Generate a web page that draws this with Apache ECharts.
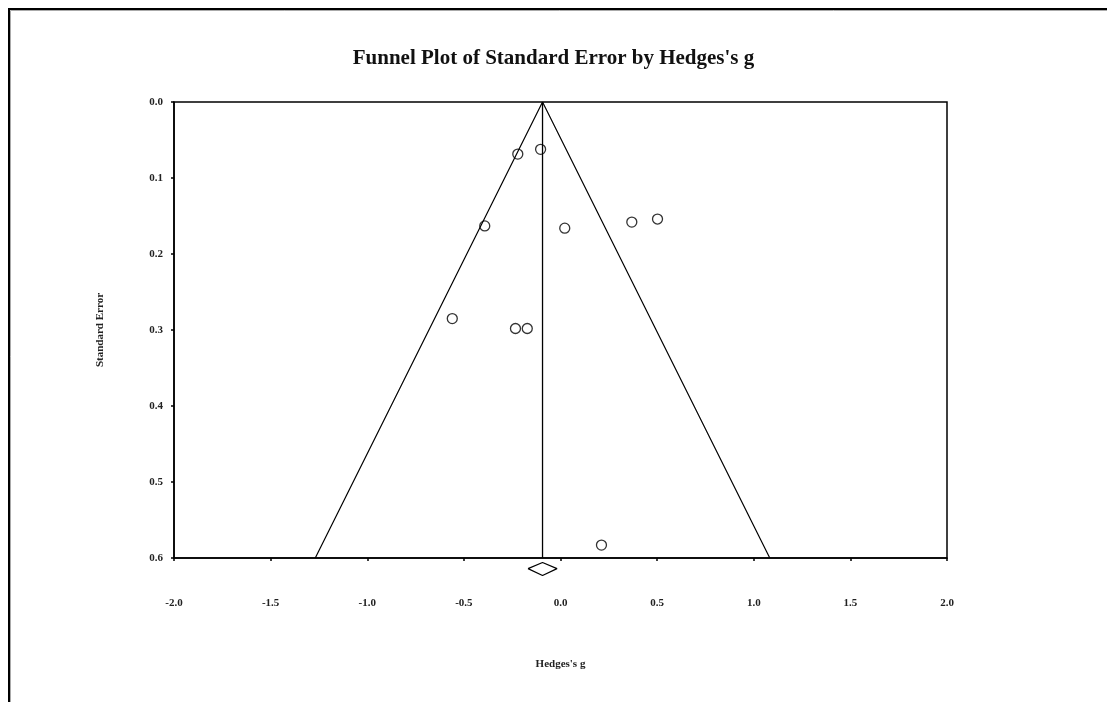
<!DOCTYPE html>
<html>
<head>
<meta charset="utf-8">
<script src="https://cdn.jsdelivr.net/npm/echarts@6/dist/echarts.min.js"></script>
<style>
html,body{margin:0;padding:0;background:#fff;}
#chart{width:1107px;height:702px;}
</style>
</head>
<body>
<div id="chart"></div>
<script>
// Study points: Hedges's g and standard error
const studyG  = [-0.221, -0.103, -0.392, 0.022, 0.369, 0.502, -0.560, -0.233, -0.172, 0.212];
const studySE = [0.0685, 0.0623, 0.163, 0.166, 0.158, 0.154, 0.285, 0.298, 0.298, 0.583];
// Pooled estimate and its confidence interval
const pooledG = [-0.093];
const pooledCI = [-0.168, -0.018];
// Funnel (95% limits) at the bottom of the axis
const funnelSE = [0.0, 0.6];
const funnelBottom = [-1.269, 1.083];
// Diamond vertical placement (standard-error units, below axis)
const diamondSE = [0.606, 0.614, 0.623];
// Axis ticks
const xTicks = [-2.0, -1.5, -1.0, -0.5, 0.0, 0.5, 1.0, 1.5, 2.0];
const yTicks = [0.0, 0.1, 0.2, 0.3, 0.4, 0.5, 0.6];

const FONT = 'Liberation Serif';
const chart = echarts.init(document.getElementById('chart'), null, {renderer: 'canvas'});

const points = studyG.map((g, i) => [g, studySE[i]]);
const mean = pooledG[0];
const funnel = [[funnelBottom[0], funnelSE[1]], [mean, funnelSE[0]], [funnelBottom[1], funnelSE[1]]];
const meanLine = [[mean, funnelSE[0]], [mean, funnelSE[1]]];
const diamond = [
  [pooledCI[0], diamondSE[1]],
  [mean, diamondSE[0]],
  [pooledCI[1], diamondSE[1]],
  [mean, diamondSE[2]],
  [pooledCI[0], diamondSE[1]]
];

const option = {
  backgroundColor: '#fff',
  animation: false,
  title: {
    text: "Funnel Plot of Standard Error by Hedges's g",
    left: 'center',
    top: 43,
    textStyle: {fontFamily: FONT, fontWeight: 'bold', fontSize: 21, color: '#111'}
  },
  graphic: [
    {type: 'rect', shape: {x: 9, y: 9, width: 1200, height: 800}, style: {fill: 'none', stroke: '#000', lineWidth: 2}, silent: true},
    {type: 'rect', shape: {x: 10.5, y: 10.5, width: 1200, height: 800}, style: {fill: 'none', stroke: '#aaa', lineWidth: 1}, silent: true}
  ],
  grid: {left: 174, right: 160, top: 102, bottom: 144, show: true, borderColor: '#000', borderWidth: 1.5, containLabel: false},
  xAxis: {
    type: 'value',
    min: xTicks[0], max: xTicks[xTicks.length - 1], interval: 0.5,
    name: "Hedges's g",
    nameLocation: 'middle',
    nameGap: 101,
    nameTextStyle: {fontFamily: FONT, fontWeight: 'bold', fontSize: 11, color: '#222'},
    axisLine: {show: true, onZero: false, lineStyle: {color: '#000', width: 1.5}},
    axisTick: {show: true, length: 3, lineStyle: {color: '#000', width: 1.5}},
    axisLabel: {margin: 40, fontFamily: FONT, fontWeight: 'bold', fontSize: 11, color: '#222',
      formatter: v => v.toFixed(1)},
    splitLine: {show: false}
  },
  yAxis: {
    type: 'value',
    inverse: true,
    min: yTicks[0], max: yTicks[yTicks.length - 1], interval: 0.1,
    name: 'Standard Error',
    nameLocation: 'middle',
    nameGap: 68,
    nameRotate: 90,
    nameTextStyle: {fontFamily: FONT, fontWeight: 'bold', fontSize: 11, color: '#222'},
    axisLine: {show: true, onZero: false, lineStyle: {color: '#000', width: 1.5}},
    axisTick: {show: true, length: 3, lineStyle: {color: '#000', width: 1.5}},
    axisLabel: {margin: 11, fontFamily: FONT, fontWeight: 'bold', fontSize: 11, color: '#222',
      formatter: v => v.toFixed(1)},
    splitLine: {show: false}
  },
  series: [
    {type: 'line', data: funnel, symbol: 'none', lineStyle: {color: '#000', width: 1.2}, silent: true, z: 2},
    {type: 'line', data: meanLine, symbol: 'none', lineStyle: {color: '#000', width: 1.3}, silent: true, z: 2},
    {type: 'line', data: diamond, symbol: 'none', clip: false, lineStyle: {color: '#000', width: 1.2}, silent: true, z: 3},
    {type: 'scatter', data: points, symbol: 'circle', symbolSize: 10,
      itemStyle: {color: 'rgba(255,255,255,0)', borderColor: '#000', borderWidth: 1.3}, z: 4}
  ]
};
chart.setOption(option);
</script>
</body>
</html>
